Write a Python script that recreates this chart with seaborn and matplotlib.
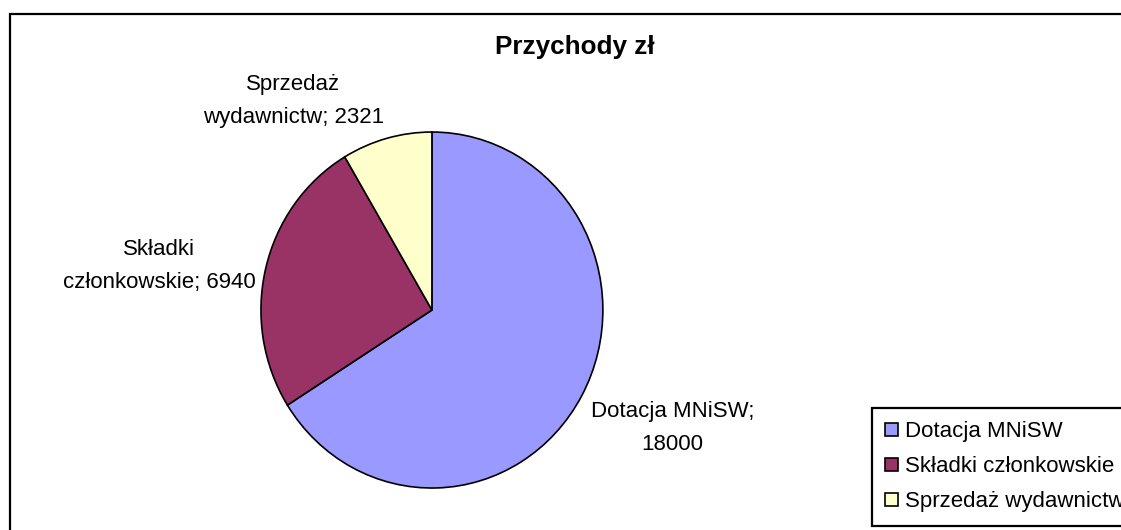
import numpy as np
import matplotlib
matplotlib.use("Agg")
import matplotlib.pyplot as plt
import seaborn as sns
from matplotlib.patches import Rectangle, Patch

# data
categories = ["Dotacja MNiSW", "Składki członkowskie", "Sprzedaż wydawnictw"]
label_text = ["Dotacja MNiSW;\n18000", "Składki\nczłonkowskie; 6940", "Sprzedaż\nwydawnictw; 2321"]
values = [18000, 6940, 2321]
colors = ["#9999FF", "#993366", "#FFFFCC"]

sns.set_theme(style="white")
plt.rcParams["font.family"] = ["Liberation Sans", "DejaVu Sans"]
plt.rcParams["text.color"] = "black"

fig = plt.figure(figsize=(11.21, 5.30), dpi=100)

# outer chart frame (runs off the right/bottom edge like the original)
fig.patches.append(Rectangle((10 / 1121, -0.05), 1.2, 1 - 14 / 530 + 0.05,
                             transform=fig.transFigure, fill=False,
                             edgecolor="black", linewidth=1.6, zorder=0))

ax = fig.add_axes([0.2328, 0.0792, 0.305, 0.6717])
wedges, _ = ax.pie(values, colors=sns.color_palette(colors),
                   startangle=90, counterclock=False,
                   wedgeprops=dict(edgecolor="black", linewidth=1.2))
ax.set_aspect("auto")
ax.set_xlim(-1, 1)
ax.set_ylim(-1, 1)

# Excel-style labels: nearest corner of the text box sits just outside the pie
for w, txt in zip(wedges, label_text):
    ang = np.deg2rad((w.theta1 + w.theta2) / 2)
    c, s = np.cos(ang), np.sin(ang)
    ha = "left" if c > 0 else "right"
    va = "center" if abs(s) < 0.4 else ("bottom" if s > 0 else "top")
    ax.text(1.06 * c, 1.06 * s, txt, ha=ha, va=va, multialignment="center",
            fontsize=16, linespacing=1.75, color="black")

fig.text(575 / 1121, 1 - 47 / 530, "Przychody zł", ha="center", va="center",
         fontsize=18.8, fontweight="bold", color="black")

handles = [Patch(facecolor=c, edgecolor="black", linewidth=1.2) for c in colors]
leg = fig.legend(handles, categories, loc="upper left",
                 bbox_to_anchor=(872 / 1121, 1 - 408 / 530),
                 frameon=True, fancybox=False, framealpha=1, fontsize=16,
                 handlelength=0.55, handleheight=0.55, handletextpad=0.35,
                 labelspacing=0.63, borderpad=0.6, borderaxespad=0)
leg.get_frame().set_edgecolor("black")
leg.get_frame().set_linewidth(1.6)

fig.savefig("out.png", dpi=100)
